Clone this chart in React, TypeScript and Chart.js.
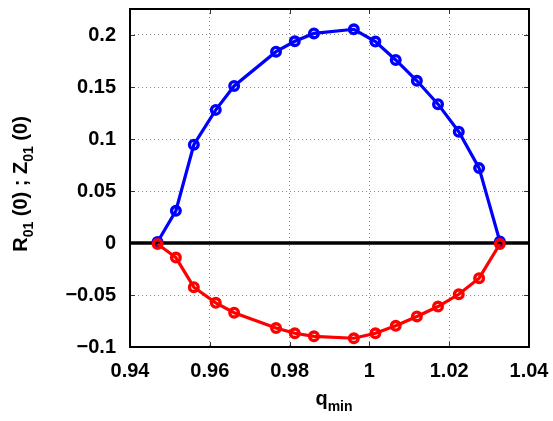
import React, { useEffect, useRef } from "react";
import { Chart, registerables } from "chart.js";

Chart.register(...registerables);

const qMin = [0.9469, 0.9515, 0.956, 0.9615, 0.9661, 0.9766, 0.9813, 0.9861, 0.9961, 1.0015, 1.0066, 1.0119, 1.0172, 1.0224, 1.0275, 1.0327];
const R01 = [0.001, 0.031, 0.0945, 0.128, 0.151, 0.184, 0.194, 0.2015, 0.2055, 0.1937, 0.176, 0.156, 0.1335, 0.107, 0.072, 0.0015];
const Z01 = [-0.001, -0.014, -0.0425, -0.0575, -0.067, -0.0818, -0.0868, -0.0897, -0.0916, -0.0868, -0.0796, -0.0706, -0.0611, -0.0493, -0.0338, -0.001];
const xTicks = [0.94, 0.96, 0.98, 1.0, 1.02, 1.04];
const xTickLabels = ["0.94", "0.96", "0.98", "1", "1.02", "1.04"];
const yTicks = [-0.1, -0.05, 0, 0.05, 0.1, 0.15, 0.2];
const yTickLabels = ["\u22120.1", "\u22120.05", "0", "0.05", "0.1", "0.15", "0.2"];
const zeroLine = [0.94, 1.04];

const FONT = "'Liberation Sans', Arial, Helvetica, sans-serif";

type Part = { t: string; sub?: boolean };

function richWidth(ctx: CanvasRenderingContext2D, parts: Part[]) {
  let w = 0;
  for (const p of parts) {
    ctx.font = `bold ${p.sub ? 14 : 20}px ${FONT}`;
    w += ctx.measureText(p.t).width;
  }
  return w;
}
function drawRich(ctx: CanvasRenderingContext2D, parts: Part[], cx: number, baseY: number) {
  const w = richWidth(ctx, parts);
  let x = cx - w / 2;
  ctx.textAlign = "left";
  ctx.textBaseline = "alphabetic";
  for (const p of parts) {
    ctx.font = `bold ${p.sub ? 14 : 20}px ${FONT}`;
    ctx.fillText(p.t, x, baseY + (p.sub ? 6 : 0));
    x += ctx.measureText(p.t).width;
  }
}

const decorPlugin = {
  id: "decor",
  beforeDatasetsDraw(chart: any) {
    const { ctx, chartArea: a, scales } = chart;
    ctx.save();
    ctx.strokeStyle = "#333";
    ctx.lineWidth = 1;
    const tl = 5;
    for (const v of xTicks) {
      const px = Math.round(scales.x.getPixelForValue(v)) + 0.5;
      ctx.beginPath();
      ctx.moveTo(px, a.top);
      ctx.lineTo(px, a.top + tl);
      ctx.moveTo(px, a.bottom);
      ctx.lineTo(px, a.bottom - tl);
      ctx.stroke();
    }
    for (const v of yTicks) {
      const py = Math.round(scales.y.getPixelForValue(v)) + 0.5;
      ctx.beginPath();
      ctx.moveTo(a.left, py);
      ctx.lineTo(a.left + tl, py);
      ctx.moveTo(a.right, py);
      ctx.lineTo(a.right - tl, py);
      ctx.stroke();
    }
    ctx.restore();
  },
  afterDraw(chart: any) {
    const { ctx, chartArea: a } = chart;
    ctx.save();
    ctx.strokeStyle = "#000";
    ctx.lineWidth = 2;
    ctx.strokeRect(a.left, a.top, a.right - a.left, a.bottom - a.top);
    ctx.fillStyle = "#000";
    // x title
    drawRich(ctx, [{ t: "q" }, { t: "min", sub: true }], 334, 405);
    // y title
    ctx.translate(27, 184);
    ctx.rotate(-Math.PI / 2);
    drawRich(
      ctx,
      [{ t: "R" }, { t: "01", sub: true }, { t: " (0) ; Z" }, { t: "01", sub: true }, { t: " (0)" }],
      0,
      0
    );
    ctx.restore();
  },
};

export default function App() {
  const ref = useRef<HTMLCanvasElement | null>(null);
  useEffect(() => {
    if (!ref.current) return;
    const chart = new Chart(ref.current, {
      type: "line",
      data: {
        datasets: [
          {
            label: "Z01",
            data: qMin.map((q, i) => ({ x: q, y: Z01[i] })),
            borderColor: "#ff0000",
            backgroundColor: "rgba(0,0,0,0)",
            borderWidth: 3.2,
            pointRadius: 4.3,
            pointBorderWidth: 3.4,
            pointBorderColor: "#ff0000",
            pointBackgroundColor: "rgba(0,0,0,0)",
          },
          {
            label: "zero",
            data: zeroLine.map((q) => ({ x: q, y: 0 })),
            borderColor: "#000",
            borderWidth: 3.5,
            pointRadius: 0,
          },
          {
            label: "R01",
            data: qMin.map((q, i) => ({ x: q, y: R01[i] })),
            borderColor: "#0000ff",
            backgroundColor: "rgba(0,0,0,0)",
            borderWidth: 3.2,
            pointRadius: 4.3,
            pointBorderWidth: 3.4,
            pointBorderColor: "#0000ff",
            pointBackgroundColor: "rgba(0,0,0,0)",
          },
        ],
      },
      options: {
        animation: false,
        responsive: false,
        devicePixelRatio: 1,
        layout: { padding: { left: 0, top: 9, right: 24, bottom: 0 } },
        plugins: { legend: { display: false }, tooltip: { enabled: false } },
        scales: {
          x: {
            type: "linear",
            min: 0.94,
            max: 1.04,
            afterFit: (s: any) => {
              s.height = 74;
              s.paddingLeft = 0;
              s.paddingRight = 0;
            },
            afterBuildTicks: (s: any) => {
              s.ticks = xTicks.map((v) => ({ value: v }));
            },
            ticks: {
              padding: 12,
              color: "#000",
              font: { family: FONT, size: 20, weight: "bold" },
              callback: (v: any) => {
                const i = xTicks.findIndex((t) => Math.abs(t - v) < 1e-6);
                return i >= 0 ? xTickLabels[i] : "";
              },
              maxRotation: 0,
            },
            grid: {
              drawTicks: false,
              color: (c: any) => {
                const v = c.tick ? c.tick.value : 0;
                return Math.abs(v - 0.94) < 1e-6 || Math.abs(v - 1.04) < 1e-6 ? "rgba(0,0,0,0)" : "#888";
              },
              lineWidth: 1,
            },
            border: { display: false, dash: [1, 3] },
          },
          y: {
            type: "linear",
            min: -0.1,
            max: 0.225,
            afterFit: (s: any) => {
              s.width = 130;
              s.paddingTop = 0;
              s.paddingBottom = 0;
            },
            afterBuildTicks: (s: any) => {
              s.ticks = yTicks.map((v) => ({ value: v }));
            },
            ticks: {
              padding: 14,
              color: "#000",
              font: { family: FONT, size: 20, weight: "bold" },
              callback: (v: any) => {
                const i = yTicks.findIndex((t) => Math.abs(t - v) < 1e-6);
                return i >= 0 ? yTickLabels[i] : "";
              },
            },
            grid: {
              drawTicks: false,
              color: (c: any) => {
                const v = c.tick ? c.tick.value : 0;
                return Math.abs(v + 0.1) < 1e-6 || Math.abs(v) < 1e-6 ? "rgba(0,0,0,0)" : "#888";
              },
              lineWidth: 1,
            },
            border: { display: false, dash: [1, 3] },
          },
        },
      },
      plugins: [decorPlugin],
    } as any);
    return () => chart.destroy();
  }, []);
  return (
    <div style={{ position: "absolute", left: 0, top: 0, width: 553, height: 421, background: "#fff" }}>
      <canvas ref={ref} width={553} height={421} style={{ display: "block", width: 553, height: 421 }} />
    </div>
  );
}
